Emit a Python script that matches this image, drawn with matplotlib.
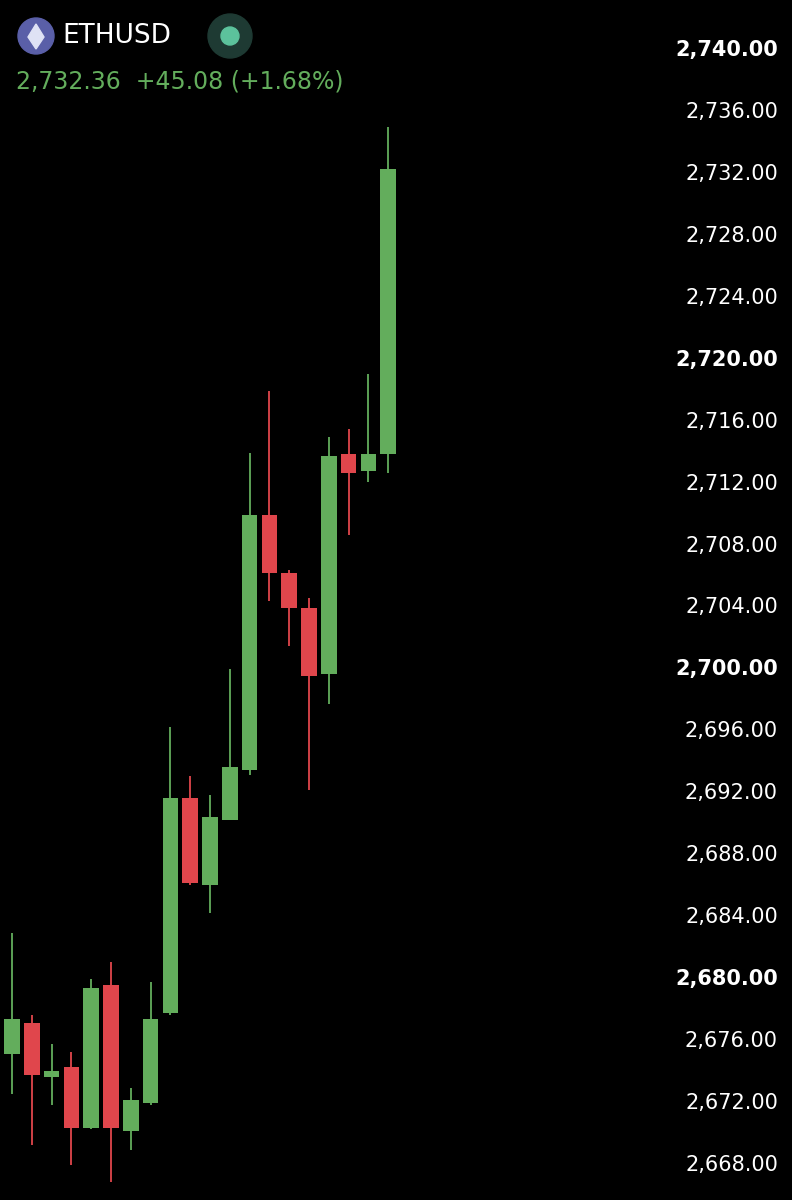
import matplotlib.pyplot as plt
from matplotlib.patches import Ellipse, Polygon

# candle data
opens  = [2675.2, 2677.2, 2673.7, 2674.3, 2670.4, 2679.6, 2670.2, 2672.0, 2677.8, 2691.7,
          2686.1, 2690.3, 2693.5, 2710.0, 2706.2, 2704.0, 2699.7, 2713.9, 2712.8, 2713.9]
closes = [2677.4, 2673.8, 2674.1, 2670.4, 2679.4, 2670.4, 2672.2, 2677.4, 2691.7, 2686.2,
          2690.5, 2693.7, 2710.0, 2706.2, 2704.0, 2699.6, 2713.8, 2712.7, 2713.9, 2732.3]
highs  = [2683.0, 2677.7, 2675.8, 2675.3, 2680.0, 2681.1, 2673.0, 2679.8, 2696.3, 2693.1,
          2691.9, 2700.0, 2714.0, 2718.0, 2706.4, 2704.6, 2715.0, 2715.5, 2719.1, 2735.0]
lows   = [2672.6, 2669.3, 2671.9, 2668.0, 2670.3, 2666.9, 2669.0, 2671.9, 2677.7, 2686.1,
          2684.3, 2690.3, 2693.2, 2704.4, 2701.5, 2692.2, 2697.8, 2708.7, 2712.1, 2712.7]
tick_values = [2740 - 4 * i for i in range(19)]
bold_ticks = [2740, 2720, 2700, 2680]

green = '#63ad5c'
red = '#e0464c'

fig = plt.figure(figsize=(7.92, 12), dpi=100, facecolor='black')
ax = fig.add_axes([0, 0, 1, 1])
ax.set_facecolor('black')
ax.set_xlim(-12 / 19.8, 780 / 19.8)
ax.set_ylim(2665.74, 2743.23)
ax.axis('off')

for i, (o, c, h, l) in enumerate(zip(opens, closes, highs, lows)):
    col = green if c >= o else red
    ax.vlines(i, l, h, color=col, linewidth=1.3)
    bottom = min(o, c)
    ax.bar(i, max(abs(c - o), 0.35), bottom=bottom, width=0.78, color=col)

# price axis labels
for v in tick_values:
    bold = v in bold_ticks
    fig.text(778 / 792, 1 - (50 + (2740 - v) * 15.486) / 1200, f'{v:,.2f}',
             color='white', ha='right', va='center', fontsize=15,
             fontweight='bold' if bold else 'normal', family='DejaVu Sans')


# header, in pixel coords so circles stay round
def circle(cx, cy, r, color, z):
    e = Ellipse((cx / 792, 1 - cy / 1200), 2 * r / 792, 2 * r / 1200,
                transform=fig.transFigure, color=color, zorder=z)
    fig.patches.append(e)


circle(36, 36, 18, '#5a5fa8', 5)
pts = [(36, 24), (44, 37), (36, 49), (28, 37)]
fig.patches.append(Polygon([(x / 792, 1 - y / 1200) for x, y in pts],
                           transform=fig.transFigure, color='#dfe2f5', zorder=6))
fig.text(62 / 792, 1 - 36 / 1200, 'ETHUSD', color='white', fontsize=19,
         va='center', ha='left')
circle(230, 36, 22, '#1e3a33', 5)
circle(230, 36, 9, '#5cc29c', 6)
fig.text(16 / 792, 1 - 82 / 1200, '2,732.36  +45.08 (+1.68%)', color=green,
         fontsize=17, va='center', ha='left')

fig.savefig('out.png', dpi=100, facecolor='black')
